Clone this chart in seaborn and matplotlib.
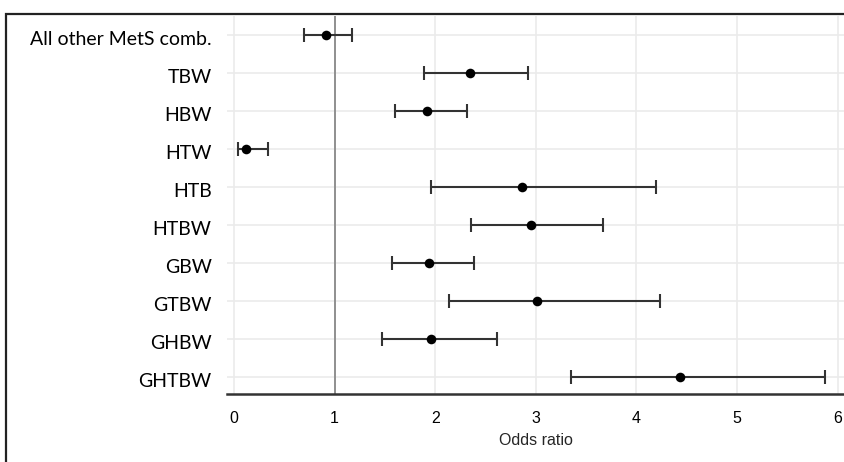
import matplotlib
matplotlib.use("Agg")
import matplotlib.pyplot as plt
import matplotlib.transforms as mtransforms
import seaborn as sns
import pandas as pd
from matplotlib.patches import Rectangle

categories = ["All other MetS comb.", "TBW", "HBW", "HTW", "HTB", "HTBW",
              "GBW", "GTBW", "GHBW", "GHTBW"]
odds = [0.91, 2.35, 1.92, 0.12, 2.86, 2.95, 1.94, 3.01, 1.96, 4.43]
lower = [0.70, 1.89, 1.60, 0.04, 1.96, 2.36, 1.57, 2.14, 1.47, 3.35]
upper = [1.17, 2.92, 2.32, 0.34, 4.19, 3.67, 2.39, 4.23, 2.61, 5.87]
xticks = [0, 1, 2, 3, 4, 5, 6]

df = pd.DataFrame({"cat": categories, "or": odds, "lo": lower, "hi": upper})

sns.set_style("whitegrid", {"grid.color": "#ebebeb"})
plt.rcParams["font.family"] = ["Liberation Sans", "DejaVu Sans"]

W, H = 845, 462
fig = plt.figure(figsize=(W / 100, H / 100), dpi=100)
ax = fig.add_axes([227 / W, 1 - 394 / H, (W - 227) / W, (394 - 16) / H])

ypos = list(range(len(categories)))
ax.errorbar(df["or"], ypos,
            xerr=[df["or"] - df["lo"], df["hi"] - df["or"]],
            fmt="none", ecolor="#333333", elinewidth=1.5, capsize=4.7,
            capthick=1.5, zorder=3)
sns.scatterplot(data=df, x="or", y="cat", color="black", s=48,
                edgecolor="black", linewidth=0, ax=ax, zorder=4)

ax.axvline(1, color="#777777", lw=1.1, zorder=2)

ax.set_xlim(-0.07, (W - 234) / 100.6)
ax.set_ylim(len(categories) - 1 + 0.447, -0.5)
ax.set_xticks(xticks)
ax.set_xticklabels([str(t) for t in xticks], fontsize=11.5)
ax.set_yticks(ypos)
ax.set_yticklabels(categories, fontsize=14, family=["Lato", "DejaVu Sans"])
ax.tick_params(axis="y", length=0, pad=11, colors="black")
ax.tick_params(axis="x", length=5, width=1.3, color="#333333", pad=7,
               colors="black")
ax.tick_params(axis="x", labelcolor="black")
ax.set_xlabel("Odds ratio", fontsize=11.5, labelpad=5)
ax.set_ylabel("")
ax.grid(True, color="#ebebeb", lw=1.2)

offset = mtransforms.ScaledTranslation(0, -3 / 100, fig.dpi_scale_trans)
for lab in ax.get_yticklabels():
    lab.set_transform(lab.get_transform() + offset)

for s in ["top", "right", "left"]:
    ax.spines[s].set_visible(False)
ax.spines["bottom"].set_color("#333333")
ax.spines["bottom"].set_linewidth(1.8)

fig.patches.append(Rectangle((6 / W, -0.1), 1.2, (H - 14) / H + 0.1,
                             transform=fig.transFigure, fill=False,
                             edgecolor="#222222", lw=1.6))

fig.savefig("out.png", dpi=100)
